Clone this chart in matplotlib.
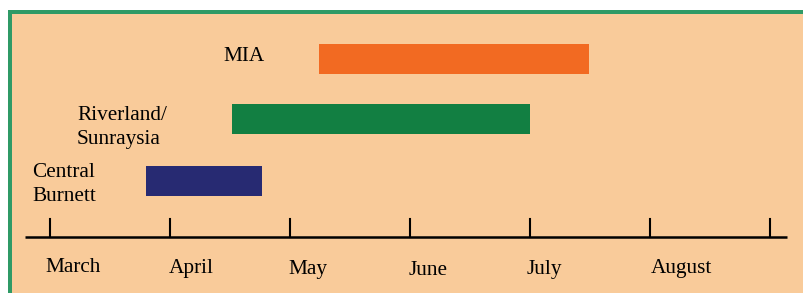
import matplotlib.pyplot as plt
from matplotlib.patches import Rectangle

# data: months on the axis, growing regions with season start/end (months after 1 March)
months = ['March', 'April', 'May', 'June', 'July', 'August']
regions = ['MIA', 'Riverland/\nSunraysia', 'Central\nBurnett']
starts = [2.24, 1.52, 0.80]
ends = [4.49, 4.00, 1.77]
colors = ['#F26A22', '#127F42', '#272A72']

W, H = 804, 293
fig = plt.figure(figsize=(W / 100, H / 100), dpi=100, facecolor='white')

# background panel with green frame on top and left
fig.patches.append(Rectangle((8 / W, 0), 1, (H - 10) / H, transform=fig.transFigure,
                             facecolor='#2F9A66', edgecolor='none', zorder=-2))
fig.patches.append(Rectangle((12 / W, 0), 1, (H - 14) / H, transform=fig.transFigure,
                             facecolor='#F9CB9A', edgecolor='none', zorder=-1))

ax = fig.add_axes([0, 0, 1, 1])
ax.set_facecolor('none')
ax.set_xlim(-50 / 120, (W - 50) / 120)
ax.set_ylim(H, 0)
ax.axis('off')

font = dict(family='Liberation Serif', fontsize=15.3, color='black')

def px(x):
    return (x - 50) / 120

# bars and their labels (one text per line, placed on baselines)
row_y = [59, 119, 181]
label_x = [223, 77, 32]
label_base = [61, 120, 177]
for i in range(len(regions)):
    ax.barh(row_y[i], ends[i] - starts[i], left=starts[i], height=30,
            color=colors[i], edgecolor='none')
    for j, line in enumerate(regions[i].split('\n')):
        ax.text(px(label_x[i]), label_base[i] + 24 * j, line, ha='left',
                va='baseline', **font)

# time axis
ax.plot([px(25), px(787)], [237, 237], color='black', lw=1.8,
        solid_capstyle='butt')
for m in range(len(months) + 1):
    ax.plot([m, m], [219, 237], color='black', lw=1.5)

month_base = [272, 273, 274, 275, 274, 273]
month_dx = [-4.6, -1.4, -1.4, -1.4, -3.4, 0.6]  # pixel nudges from the tick
for m, name in enumerate(months):
    ax.text(m + month_dx[m] / 120, month_base[m], name, ha='left', va='baseline', **font)

fig.savefig('out.png', dpi=100, facecolor='white')
